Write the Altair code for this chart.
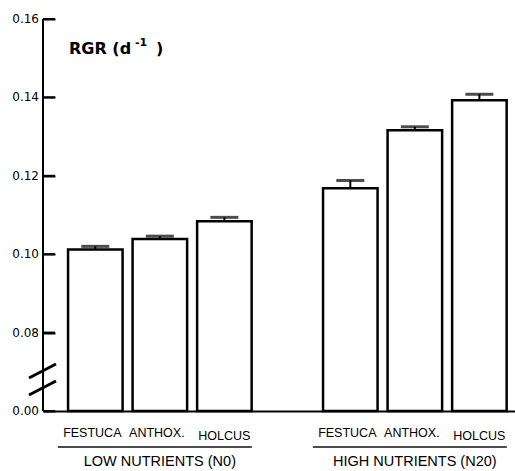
import altair as alt
import pandas as pd

# Relative growth rate of three grass species under two nutrient levels
species = ["FESTUCA", "ANTHOX.", "HOLCUS"]
groups = ["N0", "N20"]
group_labels = ["LOW  NUTRIENTS (N0)", "HIGH NUTRIENTS (N20)"]
rgr_low = [0.1012, 0.1039, 0.1084]
err_low = [0.0008, 0.0007, 0.0010]
rgr_high = [0.1168, 0.1316, 0.1393]
err_high = [0.0020, 0.0009, 0.0015]

# The value axis is broken: its bottom (0.06 on the scale) is labelled 0.00
axis_floor = 0.06
tick_values = [0.06, 0.08, 0.10, 0.12, 0.14, 0.16]
tick_labels = ["0.00", "0.08", "0.10", "0.12", "0.14", "0.16"]

rows = []
for g, vals, errs in [(groups[0], rgr_low, err_low), (groups[1], rgr_high, err_high)]:
    for s, v, e in zip(species, vals, errs):
        rows.append({"group": g, "species": s, "rgr": v, "upper": v + e, "floor": axis_floor})
df = pd.DataFrame(rows)
labels_df = pd.DataFrame({"group": groups, "label": group_labels})
ticks_df = pd.DataFrame({"tick": tick_values, "label": tick_labels})

W, H = 472, 392
FONT = "Liberation Sans"
TITLE_FONT = "DejaVu Sans"
TICK_LEN = 12

x_enc = alt.X(
    "group:N",
    sort=groups,
    scale=alt.Scale(paddingInner=0.28, paddingOuter=0.0655, align=0.75),
    axis=alt.Axis(labels=False, ticks=False, title=None, domainColor="black", domainWidth=2),
)
xoff = alt.XOffset("species:N", sort=species, scale=alt.Scale(paddingInner=0.155, paddingOuter=0))
y_scale = alt.Scale(domain=[axis_floor, 0.16], zero=False, nice=False)
# value axis: only short dashed grid stubs are shown, giving inward ticks
y_axis = alt.Axis(
    values=tick_values,
    labels=False,
    ticks=False,
    domain=False,
    grid=True,
    gridColor="black",
    gridWidth=2,
    gridOpacity=1,
    gridDash=[TICK_LEN, 2000],
    title=None,
)

base = alt.Chart(df)

bars = base.mark_bar(fill="white", stroke="black", strokeWidth=2.5).encode(
    x=x_enc, xOffset=xoff, y=alt.Y("rgr:Q", scale=y_scale, axis=y_axis), y2="floor:Q"
)

err_rule = base.mark_rule(color="black", strokeWidth=2).encode(
    x=alt.X("group:N", sort=groups), xOffset=xoff,
    y=alt.Y("rgr:Q", scale=y_scale, axis=y_axis), y2="upper:Q",
)

err_cap = base.mark_tick(color="black", size=28, thickness=3, orient="horizontal").encode(
    x=alt.X("group:N", sort=groups), xOffset=xoff,
    y=alt.Y("upper:Q", scale=y_scale, axis=y_axis),
)

one = alt.Data(values=[{}])

# frame line of the value axis
y_frame = alt.Chart(one).mark_rule(color="black", strokeWidth=2).encode(
    x=alt.value(0), y=alt.value(0), y2=alt.value(H)
)
# value-axis tick labels
tick_text = alt.Chart(ticks_df).mark_text(
    font="DejaVu Sans", fontSize=12, color="black", align="right", baseline="middle"
).encode(
    x=alt.value(-4), y=alt.Y("tick:Q", scale=y_scale, axis=y_axis), text="label:N"
)
# inward tick marks
tick_marks = alt.Chart(ticks_df).mark_rule(color="black", strokeWidth=2).encode(
    x=alt.value(0), x2=alt.value(TICK_LEN), y=alt.Y("tick:Q", scale=y_scale, axis=y_axis)
)

species_text = base.transform_filter(alt.datum.species != "HOLCUS").mark_text(
    font=FONT, fontSize=12.5, color="black", baseline="middle", dx=-3
).encode(
    x=alt.X("group:N", sort=groups), xOffset=xoff, y=alt.value(414), text="species:N"
)
holcus_text = base.transform_filter(alt.datum.species == "HOLCUS").mark_text(
    font=FONT, fontSize=12.5, color="black", baseline="middle"
).encode(
    x=alt.X("group:N", sort=groups), xOffset=xoff, y=alt.value(417), text="species:N"
)

underline = alt.Chart(labels_df).mark_tick(
    color="black", size=194, thickness=2, orient="horizontal", xOffset=-5
).encode(x=alt.X("group:N", sort=groups), y=alt.value(428))

group_text = alt.Chart(labels_df).mark_text(
    font=FONT, fontSize=14.5, color="black", baseline="middle"
).encode(x=alt.X("group:N", sort=groups), y=alt.value(443), text="label:N")

slash1 = alt.Chart(one).mark_rule(color="black", strokeWidth=3).encode(
    x=alt.value(-14), x2=alt.value(13), y=alt.value(359), y2=alt.value(345)
)
slash2 = alt.Chart(one).mark_rule(color="black", strokeWidth=3).encode(
    x=alt.value(-14), x2=alt.value(13), y=alt.value(376), y2=alt.value(362)
)

# panel label: "RGR (d" + raised "-1" + " )"
title_main = alt.Chart(one).mark_text(
    text="RGR (d", font=TITLE_FONT, fontSize=16, fontWeight="bold",
    color="black", align="left", baseline="middle"
).encode(x=alt.value(26), y=alt.value(30))
title_sup = alt.Chart(one).mark_text(
    text="-1", font=TITLE_FONT, fontSize=11, fontWeight="bold",
    color="black", align="left", baseline="middle"
).encode(x=alt.value(92), y=alt.value(24))
title_end = alt.Chart(one).mark_text(
    text=")", font=TITLE_FONT, fontSize=16, fontWeight="bold",
    color="black", align="left", baseline="middle"
).encode(x=alt.value(113), y=alt.value(30))

chart = alt.layer(
    bars, err_rule, err_cap, y_frame, tick_text, species_text, holcus_text,
    underline, group_text, slash1, slash2, title_main, title_sup, title_end, tick_marks
).properties(
    width=W, height=H,
    padding={"left": 43, "top": 19, "right": 0, "bottom": 60},
    autosize="none",
    background="white",
).configure_view(stroke=None)

chart.save("out.html", embed_options={"renderer": "svg", "actions": False})
